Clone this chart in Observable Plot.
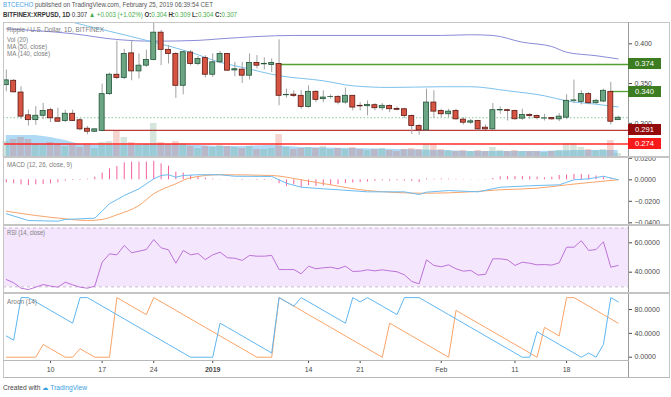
<!DOCTYPE html>
<html><head><meta charset="utf-8">
<script src="https://cdn.jsdelivr.net/npm/d3@7"></script>
<script src="https://cdn.jsdelivr.net/npm/@observablehq/plot@0.6"></script>
<style>
html,body{margin:0;padding:0;background:#fff;}
#c{position:relative;width:671px;height:397px;overflow:hidden;background:#fff;font-family:"Liberation Sans",Arial,sans-serif;}
.t{position:absolute;white-space:nowrap;line-height:1;transform-origin:0 0;}
.ln{position:absolute;background:#cfcfcf;}
.box{position:absolute;left:628px;width:33px;height:11px;color:#fff;font-size:7.6px;line-height:11px;text-align:center;}
</style></head><body><div id="c"></div>
<script>
// ---------- data ----------
const startDay = "2018-12-04", endDay = "2019-02-25";
const open = [.348,.3535,.3387,.310,.304,.3095,.3165,.3063,.303,.312,.3038,.2932,.2894,.2905,.3367,.3611,.357,.388,.3653,.3725,.3797,.414,.3924,.3873,.3472,.389,.3747,.382,
 .3611,.3767,.3873,.3665,.3675,.3599,.376,.3742,.3734,.3747,.3353,.336,.3346,.3206,.3396,.3304,.333,.3333,.3261,.3346,.322,.3215,.3228,.319,.3219,.318,.3177,.3093,.2966,.2911,.3261,
 .3156,.3114,.3156,.3046,.3008,.3029,.2945,.2924,.3162,.3165,.3156,.3059,.3106,.3093,.306,.3067,.305,.3071,.3283,.327,.3367,.3253,.3274,.3396,.304];
const high = [.367,.355,.346,.3165,.321,.325,.319,.319,.3165,.3165,.306,.296,.2932,.3494,.363,.4033,.393,.404,.3873,.392,.43,.4168,.398,.389,.3905,.3915,.384,.385,
 .3873,.3905,.388,.3767,.3767,.3873,.3852,.3823,.381,.405,.343,.3409,.341,.3472,.341,.3409,.3358,.3346,.3443,.3346,.326,.3282,.3248,.3248,.3232,.3206,.319,.3105,.2987,.343,.341,
 .3177,.3177,.3177,.3071,.305,.3038,.2979,.3249,.3206,.3177,.3165,.3177,.3122,.3105,.3114,.3072,.3122,.336,.3544,.341,.3387,.3304,.343,.3515,.309];
const low = [.3396,.338,.305,.2965,.2975,.3046,.301,.301,.301,.3025,.2905,.2855,.2882,.2894,.335,.355,.355,.3535,.3557,.3704,.3785,.3725,.3747,.3313,.3358,.3725,.3725,.357,
 .3577,.375,.3653,.3586,.3501,.3544,.3684,.3671,.364,.322,.3316,.3324,.3177,.319,.326,.326,.3304,.3232,.324,.3156,.3156,.3093,.3156,.3156,.3134,.3156,.3063,.2861,.2852,.2903,.3063,
 .3072,.3071,.3038,.2979,.2987,.2903,.2911,.2911,.3114,.3029,.3038,.3038,.3051,.3042,.3029,.3038,.302,.305,.3248,.3232,.3232,.324,.326,.298,.304];
const close = [.354,.339,.3084,.304,.3095,.3156,.3063,.302,.312,.303,.2924,.2894,.2924,.3367,.3611,.357,.3873,.3653,.3725,.3797,.414,.3924,.3873,.3472,.3894,.3747,.381,.3611,
 .3767,.3873,.3662,.368,.3599,.376,.3725,.3748,.376,.3346,.3358,.3345,.3206,.3396,.3295,.3324,.3332,.3261,.3346,.3198,.3213,.3232,.319,.322,.3177,.317,.3093,.2966,.2911,.3261,.3147,
 .3114,.3147,.305,.3008,.3025,.2924,.2924,.3165,.3167,.3156,.3051,.3106,.3093,.3067,.3062,.305,.3084,.3283,.3288,.3367,.3253,.3283,.3409,.302,.307];
const volume = [16,18,20,18,13,12,15,13,11,12,10,14,9,15,16,26,20,15,12,13,34,15,13,16,14,11,9,11,10,12,11,10,9,11,8,8,9,23,10,8,
 9,10,9,11,8,9,8,10,8,7,8,9,7,6,8,9,8,13,13,8,7,6,7,6,7,6,10,7,6,7,6,6,6,5,6,7,14,14,10,8,7,8,17,4];
const volMaIdx = [0,4,6,8,10,13,17,20,23,26,29,32,36,40,47,59,63,72,77,83];
const volMaVal = [22,22,20,17,13,12,12,13,13,12,11,11,12,10,9,7,6,6,7,7];
const ma50Idx = [5,8,20,25,29,32,37,43,47,52,59,63,68,73,76,80,83];
const ma50Val = [0.437,0.4295,0.402,0.3894,0.3767,0.3704,0.3599,0.3535,0.3472,0.3451,0.346,0.346,0.3409,0.3346,0.3282,0.324,0.3206];
const ma140Idx = [0,9,15,20,26,29,39,59,63,66,70,74,76,80,83];
const ma140Val = [0.4188,0.4127,0.4054,0.4033,0.4043,0.4063,0.4105,0.4105,0.4114,0.4105,0.402,0.3966,0.3894,0.385,0.381];
const levelValues = [0.374, 0.340, 0.291, 0.274];
const levelFrom = ["2019-01-10", "2019-02-24", "2018-12-17", null];
const macdIdx = [0,3,7,8,12,14,16,18,20,21,22,23,24,26,29,31,36,38,40,43,45,49,54,56,57,60,64,67,72,75,77,79,81,83];
const macdVal = [-0.0316,-0.0379,-0.0385,-0.0369,-0.0357,-0.0223,-0.0146,-0.0084,0.0009,0.004,0.0047,0.0024,0.004,0.0047,0.0047,0.0033,0.0031,-0.0032,-0.0069,-0.0084,-0.0093,-0.0112,-0.0112,-0.0137,-0.0115,-0.01,-0.0112,-0.0069,-0.0053,-0.0047,0,0.0009,0.0033,0];
const signalIdx = [0,4,8,11,13,15,18,20,23,25,29,36,40,44,49,57,63,67,72,76,83];
const signalVal = [-0.0292,-0.0332,-0.0363,-0.0379,-0.0369,-0.0326,-0.0239,-0.013,-0.0037,0.0019,0.0047,0.004,0,-0.0047,-0.01,-0.0125,-0.0112,-0.0093,-0.0078,-0.0047,0];
const macdHist = [-0.0028,-0.0037,-0.0047,-0.0053,-0.0047,-0.0043,-0.0037,-0.0028,-0.0012,-0.0006,
 -0.0006,0.0006,0.0025,0.0062,0.0102,0.0124,0.0158,0.0164,0.0164,0.0164,
 0.0171,0.0149,0.0127,0.0071,0.0062,0.004,0.0031,0.0015,0.0006,0.0003,
 0.0003,-0.0003,-0.0006,-0.0003,-0.0006,-0.0006,-0.0003,-0.0037,-0.0062,-0.0047,
 -0.0074,-0.0053,-0.0062,-0.0059,-0.0053,-0.0045,-0.0035,-0.003,-0.0025,-0.002,
 -0.0015,-0.001,-0.0012,-0.0008,-0.0012,-0.0015,-0.0025,0.0008,0.0006,0.0008,
 0.0006,0.0004,0.0003,-0.0003,-0.0002,-0.0003,0.0012,0.0028,0.003,0.003,
 0.003,0.0028,0.0025,0.0018,0.0025,0.004,0.0045,0.005,0.005,0.0045,
 0.0035,0.0025,0.0012,0];
const rsi = [35.0,32.8,29.1,28.2,29.8,31.6,30.5,29.8,33.2,31.4,29.8,29.1,30.5,46.8,52.5,51.8,58.2,53.2,54.3,55.4,
 62.2,56.6,55.2,46.1,54.8,51.8,52.7,48.6,51.8,53.6,49.8,49.5,48.0,51.4,50.9,50.9,51.4,41.8,41.8,41.8,
 38.9,44.1,42.3,43.0,43.4,42.3,44.1,40.5,40.7,41.6,40.9,41.6,40.9,40.3,38.2,33.7,32.1,48.4,44.6,43.7,
 45.0,42.3,40.7,41.2,38.0,38.6,49.1,49.1,48.4,44.6,46.8,46.1,45.0,45.2,44.8,46.4,57.0,57.0,61.4,54.8,
 55.4,60.7,43.4,44.6];
const rsiBands = [30, 70];
const aroonUp = [0,0,0,0,0, 21.4,14.3,7.1,0,0, 14.3,7.1,0,0,0, 100,92.9,85.7,78.6,71.4,
 100,92.9,85.7,78.6,71.4,64.3,57.1,50,42.9,35.7,28.6,21.4,14.3,7.1,0, 0,0,
 100,92.9,85.7,78.6,71.4,64.3,57.1,50,42.9,35.7,28.6,21.4,14.3,7.1,0,
 57.1,50,42.9,35.7,28.6,21.4,14.3,7.1,0,
 78.6,71.4,64.3,57.1,50,42.9,35.7,28.6,21.4,14.3,7.1,0,
 50,42.9,35.7, 100,100,92.9,85.7,78.6,71.4,64.3,57.1];
const aroonDown = [35.7,28.6, 100,100,92.9,85.7,78.6,71.4,64.3,57.1,
 100,100,92.9,85.7,78.6,71.4,64.3,57.1,50,42.9,35.7,28.6,21.4,14.3,7.1,0, 0,0,0,
 57.1,50,42.9,35.7,28.6,21.4,14.3,7.1, 100,92.9,85.7, 100,92.9,85.7,78.6,71.4,64.3,57.1,
 100,92.9, 100,92.9,85.7,78.6,71.4, 100,100,100,
 92.9,85.7,78.6,71.4,64.3,57.1,50,42.9,35.7,28.6,21.4,14.3,7.1,0, 0,
 42.9,35.7,28.6,21.4,14.3,7.1,0, 7.1,0,21.4,100,92.9];
const tickDates = ["2018-12-10","2018-12-17","2018-12-24","2019-01-01","2019-01-14","2019-01-21","2019-02-01","2019-02-11","2019-02-18"];
const tickLabels = ["10","17","24","2019","14","21","Feb","11","18"];

// ---------- build ----------
const DAY = 864e5;
const parse = s => new Date(s + "T00:00:00Z");
const dates = d3.utcDay.range(parse(startDay), new Date(+parse(endDay) + DAY));
const rows = dates.map((date, i) => ({date, open: open[i], high: high[i], low: low[i], close: close[i],
  volume: volume[i], hist: macdHist[i], rsi: rsi[i], up: aroonUp[i], down: aroonDown[i]}));
const sparse = (idx, val) => idx.map((k, j) => ({date: dates[k], v: val[j]}));
const xDomain = [new Date(+dates[0] - 0.38 * DAY), new Date(+dates[dates.length - 1] + 1.4 * DAY)];
const levels = levelValues.map((v, i) => ({v, from: levelFrom[i] ? parse(levelFrom[i]) : xDomain[0]}));
const lineColors = ["#55a032", "#55a032", "#b83c3c", "#ff2b2b"];
const boxColors = ["#3c7d22", "#3c7d22", "#920a0a", "#f81a1a"];

const W = 671, ML = 3, MR = 43;
const FONT = '"Liberation Sans", Arial, sans-serif';
const baseStyle = {fontFamily: FONT, fontSize: "7px", color: "#4a4a4a", background: "transparent", overflow: "hidden"};
const xNo = {type: "utc", domain: xDomain, axis: null};
const c = document.getElementById("c");
function place(svg, top, z) { svg.style.position = "absolute"; svg.style.left = "0px"; svg.style.top = top + "px"; svg.style.zIndex = z || 1; c.appendChild(svg); return svg; }
const UP = "#6ba583", DN = "#d75442";

// volume layer
place(Plot.plot({
  width: W, height: 135, marginLeft: ML, marginRight: MR, marginTop: 0, marginBottom: 0,
  x: xNo, y: {domain: [0, 135], axis: null}, style: baseStyle,
  marks: [
    Plot.areaY(sparse(volMaIdx, volMaVal), {x: "date", y: "v", fill: "#aad8f5", fillOpacity: 0.95}),
    Plot.rect(rows, {filter: d => d.close >= d.open, x1: "date", x2: "date", y1: 0, y2: "volume", insetLeft: -3.3, insetRight: -3.3, fill: UP, fillOpacity: 0.28}),
    Plot.rect(rows, {filter: d => d.close < d.open, x1: "date", x2: "date", y1: 0, y2: "volume", insetLeft: -3.3, insetRight: -3.3, fill: DN, fillOpacity: 0.25})
  ]
}), 22, 1);

// price pane
const main = place(Plot.plot({
  width: W, height: 135, marginLeft: ML, marginRight: MR, marginTop: 0, marginBottom: 0,
  x: xNo,
  y: {domain: [0.257, 0.4268], axis: "right", ticks: [0.3, 0.35, 0.4], tickFormat: d3.format(".3f"), tickSize: 3, tickPadding: 3, label: null},
  style: baseStyle,
  marks: [
    Plot.ruleY([close[close.length - 1]], {stroke: "#86c99a", strokeDasharray: "1.5,2"}),
    Plot.lineY(sparse(ma140Idx, ma140Val), {x: "date", y: "v", stroke: "#8b8bd9", strokeWidth: 1, clip: true, curve: "monotone-x"}),
    Plot.lineY(sparse(ma50Idx, ma50Val), {x: "date", y: "v", stroke: "#7dc2ec", strokeWidth: 1, clip: true, curve: "monotone-x"}),
    ...levels.map((d, i) => Plot.ruleY([d], {y: "v", x1: "from", x2: () => xDomain[1], stroke: lineColors[i], strokeWidth: 1.3})),
    Plot.ruleX(rows, {x: "date", y1: "low", y2: "high", stroke: "#a2a2a2", clip: true}),
    Plot.rect(rows, {filter: d => d.close >= d.open, x1: "date", x2: "date", y1: "open", y2: "close", insetLeft: -2.5, insetRight: -2.5, fill: UP, stroke: "#225437", strokeWidth: 0.8, clip: true}),
    Plot.rect(rows, {filter: d => d.close < d.open, x1: "date", x2: "date", y1: "open", y2: "close", insetLeft: -2.5, insetRight: -2.5, fill: DN, stroke: "#5b1a13", strokeWidth: 0.8, clip: true})
  ]
}), 22, 2);

// MACD pane
place(Plot.plot({
  width: W, height: 68, marginLeft: ML, marginRight: MR, marginTop: 0, marginBottom: 0,
  x: xNo,
  y: {domain: [-0.04251, 0.02074], axis: "right", ticks: [-0.04, -0.02, 0, 0.02], tickFormat: d3.format(".4f"), tickSize: 3, tickPadding: 3, label: null},
  style: baseStyle,
  marks: [
    Plot.ruleX(rows, {x: "date", y1: 0, y2: "hist", stroke: "#f2619f", strokeWidth: 1}),
    Plot.lineY(sparse(signalIdx, signalVal), {x: "date", y: "v", stroke: "#f8a56b", strokeWidth: 1, curve: "monotone-x"}),
    Plot.lineY(sparse(macdIdx, macdVal), {x: "date", y: "v", stroke: "#6bbcf2", strokeWidth: 1})
  ]
}), 157, 2);

// RSI pane
place(Plot.plot({
  width: W, height: 67, marginLeft: ML, marginRight: MR, marginTop: 0, marginBottom: 0,
  x: xNo,
  y: {domain: [25.5, 71.09], axis: "right", ticks: [40, 60], tickFormat: d3.format(".4f"), tickSize: 3, tickPadding: 3, label: null},
  style: baseStyle,
  marks: [
    Plot.rect([rsiBands], {y1: d => d[0], y2: d => d[1], fill: "#f4e6fd"}),
    Plot.ruleY(rsiBands, {stroke: "#c9b7cf", strokeDasharray: "3,3"}),
    Plot.lineY(rows, {x: "date", y: "rsi", stroke: "#bd72d8", strokeWidth: 1})
  ]
}), 226, 2);

// Aroon pane + time axis
const tickMap = new Map(tickDates.map((s, i) => [+parse(s), tickLabels[i]]));
const aroon = place(Plot.plot({
  width: W, height: 85, marginLeft: ML, marginRight: MR, marginTop: 0, marginBottom: 18,
  x: {type: "utc", domain: xDomain, ticks: tickDates.map(parse), tickFormat: d => tickMap.get(+d), tickSize: 3, tickPadding: 4, label: null},
  y: {domain: [-5.5, 106.9], axis: "right", ticks: [0, 40, 80], tickFormat: d3.format(".4f"), tickSize: 3, tickPadding: 3, label: null},
  style: baseStyle,
  marks: [
    Plot.lineY(rows, {x: "date", y: "up", stroke: "#f9a468", strokeWidth: 1}),
    Plot.lineY(rows, {x: "date", y: "down", stroke: "#5fb6f2", strokeWidth: 1})
  ]
}), 293, 2);
aroon.querySelectorAll("text").forEach(t => { if (t.textContent === "2019") t.style.fontWeight = "bold"; });

// price labels on the axis, positioned with the plot's own y scale
const yMain = main.scale("y");
levels.forEach((d, i) => {
  const b = document.createElement("div");
  b.className = "box";
  b.style.top = (22 + yMain.apply(d.v) - 5.5) + "px";
  b.style.background = boxColors[i];
  b.style.zIndex = 5;
  b.textContent = d3.format(".3f")(d.v);
  c.appendChild(b);
});

// frame lines
function ln(l, t, w, h, col) { const e = document.createElement("div"); e.className = "ln"; Object.assign(e.style, {left: l + "px", top: t + "px", width: w + "px", height: h + "px", zIndex: 4}); if (col) e.style.background = col; c.appendChild(e); }
ln(3, 22, 667, 1, "#c6c6c6");
ln(3, 22, 1, 356, "#c6c6c6");
ln(669, 22, 1, 356, "#c6c6c6");
ln(628, 22, 1, 356, "#9a9a9a");
ln(3, 156, 667, 2, "#c4c4c4");
ln(3, 224, 667, 2, "#c4c4c4");
ln(3, 292, 667, 2, "#c4c4c4");
ln(3, 360, 626, 1, "#b8b8b8");
ln(3, 377, 667, 1, "#b8b8b8");

// texts, each fitted to the width it has in the reference
function txt(html, l, t, size, w, css) {
  const e = document.createElement("div"); e.className = "t"; e.innerHTML = html;
  Object.assign(e.style, {left: l + "px", top: t + "px", fontSize: size + "px", zIndex: 6}, css || {});
  c.appendChild(e);
  const actual = e.getBoundingClientRect().width;
  if (w && actual > 0) e.style.transform = `scaleX(${w / actual})`;
  return e;
}
txt('<span style="color:#4aa3df">BTCECHO</span> published on TradingView.com, February 25, 2019 06:39:54 CET', 3, 1.2, 7.2, 210, {color: "#555"});
const G = 'style="color:#3fae49;font-weight:normal"';
txt(`<b>BITFINEX:XRPUSD, 1D</b> 0.307 <span style="color:#3fae49">▲ +0.003 (+1.02%)</span> <b>O:</b><span ${G}>0.304</span> <b>H:</b><span ${G}>0.309</span> <b>L:</b><span ${G}>0.304</span> <b>C:</b><span ${G}>0.307</span>`, 3, 11.2, 7.2, 234, {color: "#333"});
const LEG = {color: "#7c7c7c"};
txt("Ripple / U.S. Dollar, 1D, BITFINEX", 7, 26.6, 6.8, 97, LEG);
txt("Vol (20)", 7, 36.8, 6.8, 21, LEG);
txt("MA (50, close)", 7, 43.9, 6.8, 40, LEG);
txt("MA (140, close)", 7, 51.1, 6.8, 43, LEG);
txt("MACD (12, 26, close, 9)", 7, 161.5, 6.8, 65, LEG);
txt("RSI (14, close)", 7, 229.8, 6.8, 38, LEG);
txt("Aroon (14)", 7, 298.8, 6.8, 30, LEG);
txt('Created with <span style="color:#3aa0e0">☁ TradingView</span>', 3, 384.3, 7.4, 84, {color: "#444"});
</script></body></html>
